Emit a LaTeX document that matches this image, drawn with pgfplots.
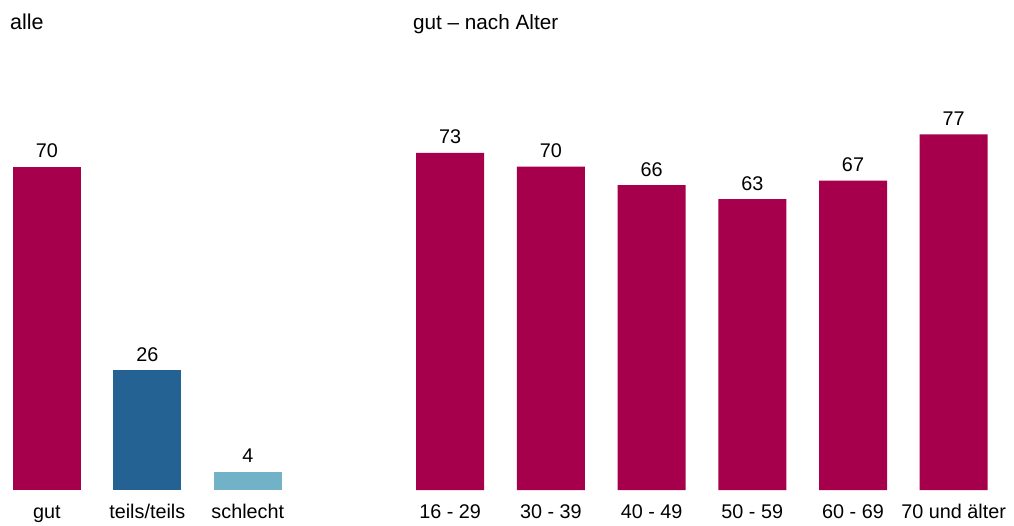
\documentclass[border=0pt]{standalone}
\usepackage{pgfplots}
\pgfplotsset{compat=1.18}
\usepackage{fontspec}
\setmainfont{Liberation Sans}
\definecolor{crim}{RGB}{166,0,76}
\definecolor{dblue}{RGB}{35,98,146}
\definecolor{lblue}{RGB}{113,178,201}
\pgfplotsset{
  mybar/.style={
    scale only axis, clip=false,
    ybar, bar width=68pt, bar shift=0pt,
    ymin=0, ymax=100, height=461.9pt,
    axis line style={draw=none}, tick style={draw=none},
    major tick length=0pt, ytick=\empty,
    xticklabel style={anchor=base, yshift=-28pt, font=\fontsize{19.8}{22}\selectfont},
    nodes near coords,
    nodes near coords style={anchor=south, inner sep=0pt, yshift=8.5pt, font=\fontsize{19.8}{22}\selectfont, text=black},
    /pgf/number format/assume math mode=true,
    anchor=origin,
  }
}
\begin{document}
\begin{tikzpicture}
\path[use as bounding box] (0,0) rectangle (1014pt,525pt);
\node[anchor=base west, inner sep=0pt, font=\fontsize{21.5}{24}\selectfont] at (10pt,495pt) {alle};
\node[anchor=base west, inner sep=0pt, font=\fontsize{20.7}{23}\selectfont] at (413pt,495pt) {gut – nach Alter};
\begin{axis}[mybar, at={(46.8pt,35pt)}, width=301.5pt, xmin=-0.5, xmax=2.5,
  xtick={0,1,2}, xticklabels={gut,teils/teils,schlecht}]
\addplot[fill=crim, draw=none] coordinates {(0,70)};
\addplot[fill=dblue, draw=none] coordinates {(1,26)};
\addplot[fill=lblue, draw=none] coordinates {(2,4)};
\end{axis}
\begin{axis}[mybar, at={(450.2pt,35pt)}, width=604.2pt, xmin=-0.5, xmax=5.5,
  xtick={0,1,2,3,4,5}, xticklabels={16 - 29,30 - 39,40 - 49,50 - 59,60 - 69,70 und älter}]
\addplot[fill=crim, draw=none] coordinates {(0,73) (1,70) (2,66) (3,63) (4,67) (5,77)};
\end{axis}
\end{tikzpicture}
\end{document}
